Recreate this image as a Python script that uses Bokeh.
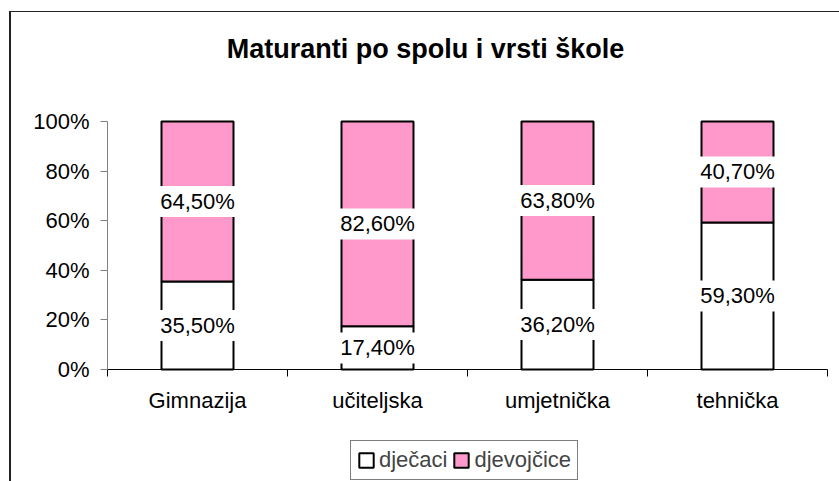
from bokeh.plotting import figure
from bokeh.models import (ColumnDataSource, FixedTicker, PrintfTickFormatter,
                          Legend, LegendItem, Range1d, Label)
from bokeh.core.properties import value
from bokeh.embed import file_html
from bokeh.resources import INLINE

categories = ["Gimnazija", "učiteljska", "umjetnička", "tehnička"]
djecaci = [35.5, 17.4, 36.2, 59.3]
djevojcice = [64.5, 82.6, 63.8, 40.7]
series_names = ["dječaci", "djevojčice"]
y_ticks = [0, 20, 40, 60, 80, 100]
title_text = "Maturanti po spolu i vrsti škole"

FONT = "Liberation Sans"
PINK = "#FF99CC"
W, H = 839, 481
# plot area inside the canvas (pixels)
PL, PR, PT, PB = 107, 827, 121, 369

n = len(categories)
centers = [i + 0.5 for i in range(n)]
bounds = [float(i) for i in range(n + 1)]
ymax = y_ticks[-1]

def fmt(v):
    return ("%.2f" % v).replace(".", ",") + "%"

# ranges so that the frame covers the whole canvas and data area sits at PL..PR / PT..PB
xs = n / (PR - PL)
ys = ymax / (PB - PT)
x_range = Range1d(-PL * xs, n + (W - PR) * xs)
y_range = Range1d(-(H - PB) * ys, ymax + PT * ys)

source = ColumnDataSource(dict(x=centers, djecaci=djecaci, djevojcice=djevojcice))

frame_bg = ("linear-gradient(#222222, #222222) 9px 11px / 2px 100% no-repeat, "
            "linear-gradient(#222222, #222222) 9px 11px / 100% 1px no-repeat, white")

p = figure(width=W, height=H, x_range=x_range, y_range=y_range,
           output_backend="svg", toolbar_location=None, title=None,
           min_border_left=0, min_border_right=0, min_border_top=0, min_border_bottom=0,
           styles={"background": frame_bg})
p.outline_line_color = None
p.xgrid.visible = False
p.ygrid.visible = False
p.background_fill_color = None
p.border_fill_color = None

renderers = p.vbar_stack(["djecaci", "djevojcice"], x="x", width=0.4, source=source,
                         fill_color=["white", PINK], line_color="black", line_width=2)

# axes
xa = p.xaxis[0]
xa.fixed_location = 0
xa.bounds = (0, n)
xa.ticker = FixedTicker(ticks=centers, minor_ticks=bounds)
xa.major_label_overrides = {c: lab for c, lab in zip(centers, categories)}
xa.major_tick_out = 0
xa.major_tick_in = 0
xa.minor_tick_out = 7
xa.minor_tick_in = 0
xa.minor_tick_line_color = "black"
xa.axis_line_color = "black"
xa.major_label_text_font = FONT
xa.major_label_text_font_size = "22px"
xa.major_label_text_color = "black"
xa.major_label_standoff = 11

ya = p.yaxis[0]
ya.fixed_location = 0
ya.bounds = (0, ymax)
ya.ticker = FixedTicker(ticks=y_ticks)
ya.formatter = PrintfTickFormatter(format="%d%%")
ya.major_tick_out = 7
ya.major_tick_in = 0
ya.minor_tick_line_color = None
ya.axis_line_color = "#808080"
ya.major_tick_line_color = "#808080"
ya.major_label_text_font = FONT
ya.major_label_text_font_size = "22px"
ya.major_label_text_color = "black"
ya.major_label_standoff = 11

# data labels
lx = centers + centers
ly = [v / 2 for v in djecaci] + [a + b / 2 for a, b in zip(djecaci, djevojcice)]
lt = [fmt(v) for v in djecaci] + [fmt(v) for v in djevojcice]
lsrc = ColumnDataSource(dict(x=lx, y=ly, t=lt))
p.text(x="x", y="y", text="t", source=lsrc, text_align="center",
       text_baseline="middle", text_font=value(FONT), text_font_size="22px",
       text_color="black", background_fill_color="white", padding=3)

# title
p.add_layout(Label(x=425, y=H - 48, x_units="screen", y_units="screen", text=title_text,
                   text_align="center", text_baseline="alphabetic", text_font=FONT,
                   text_font_size="27px", text_font_style="bold", text_color="black"))

# legend
legend = Legend(items=[LegendItem(label=series_names[0], renderers=[renderers[0]]),
                       LegendItem(label=series_names[1], renderers=[renderers[1]])],
                orientation="horizontal", location=(350, 1),
                border_line_color="black", border_line_width=1,
                label_text_font=FONT, label_text_font_size="22px",
                glyph_width=18, glyph_height=18, padding=6, spacing=5,
                label_standoff=4, margin=0, background_fill_color="white")
p.add_layout(legend, "center")

open("out.html", "w").write(file_html(p, INLINE))
